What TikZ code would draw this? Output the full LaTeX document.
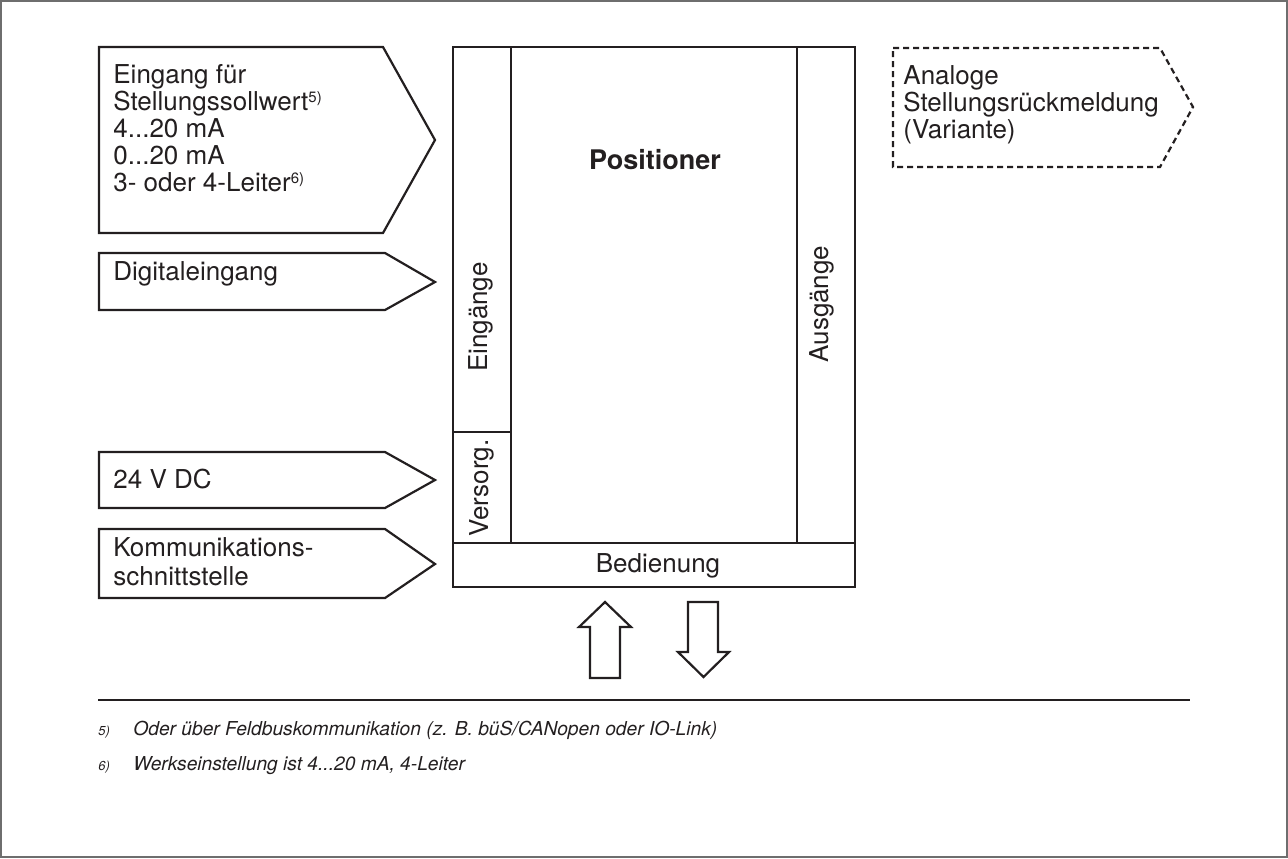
\documentclass[tikz,border=0pt]{standalone}
\usepackage{fontspec}
\setmainfont{TeX Gyre Heros}
\usepackage{xcolor}
\definecolor{primary}{RGB}{35, 31, 32}
\definecolor{framegray}{RGB}{110, 110, 110}
\newcommand{\fnref}[1]{\raisebox{0.55ex}{\fontsize{7.5}{8}\selectfont #1}}

\begin{document}
\begin{tikzpicture}[x=0.5pt,y=-0.5pt,line join=miter,
  shapeline/.style={primary,line width=1.1pt},
  bodytext/.style={font=\fontsize{13}{15}\selectfont,text=primary,inner sep=0pt,anchor=base west,align=left},
  sidetext/.style={font=\fontsize{13}{15}\selectfont,text=primary,inner sep=0pt,rotate=90},
  foottext/.style={font=\fontsize{9.6}{12}\selectfont\itshape,text=primary,inner sep=0pt,anchor=base west},
  footmark/.style={font=\fontsize{6.5}{8}\selectfont\itshape,text=primary,inner sep=0pt,anchor=base west}]
\useasboundingbox (0,0) rectangle (1288,858);
\draw[framegray,line width=0.6pt] (1,1) rectangle (1287,857);

% input arrows
\draw[shapeline] (99,47) -- (383,47) -- (435,140) -- (383,233) -- (99,233) -- cycle;
\draw[shapeline] (99,253) -- (385,253) -- (435,282) -- (385,310) -- (99,310) -- cycle;
\draw[shapeline] (99,452) -- (385,452) -- (435,480) -- (385,508) -- (99,508) -- cycle;
\draw[shapeline] (99,529) -- (385,529) -- (435,564) -- (385,598) -- (99,598) -- cycle;
\node[bodytext] (sollwert) at (113,83) {Eingang für};
\node[bodytext] (sollwert2) at (113,110) {Stellungssollwert\fnref{5)}};
\node[bodytext] (sollwert3) at (113,137) {4...20 mA};
\node[bodytext] (sollwert4) at (113,164) {0...20 mA};
\node[bodytext] (sollwert5) at (113,191) {3- oder 4-Leiter\fnref{6)}};
\node[bodytext] (digital) at (113,280) {Digitaleingang};
\node[bodytext] (versorgung) at (113,488) {24 V DC};
\node[bodytext] (komm) at (113,556) {Kommunikations-};
\node[bodytext] (komm2) at (113,585) {schnittstelle};

% output arrow (variant)
\draw[shapeline,dash pattern=on 3pt off 2pt] (893,48) -- (1160,48) -- (1193,107) -- (1160,167) -- (893,167) -- cycle;
\node[bodytext] (rueck) at (903,84) {Analoge};
\node[bodytext] (rueck2) at (903,111) {Stellungsrückmeldung};
\node[bodytext] (rueck3) at (903,138) {(Variante)};

% positioner block
\draw[shapeline] (453,47) rectangle (855,587);
\draw[shapeline] (511,47) -- (511,543);
\draw[shapeline] (453,432) -- (511,432);
\draw[shapeline] (797,47) -- (797,543);
\draw[shapeline] (453,543) -- (855,543);
\node[font=\fontsize{13.5}{15}\selectfont\bfseries,text=primary] (positioner) at (655,160) {Positioner};
\node[sidetext] (eingaenge) at (481,317) {Eingänge};
\node[sidetext] (ausgaenge) at (822,304) {Ausgänge};
\node[sidetext] (versorg) at (482,488) {Versorg.};
\node[font=\fontsize{13}{15}\selectfont,text=primary] (bedienung) at (658,566) {Bedienung};

% operating arrows
\draw[shapeline] (590,678) -- (590,627) -- (579,627) -- (605,602) -- (631,627) -- (620,627) -- (620,678) -- cycle;
\draw[shapeline] (688,602) -- (718,602) -- (718,652) -- (729,652) -- (703.5,677) -- (678,652) -- (688,652) -- cycle;

% footnotes
\draw[primary,line width=0.6pt] (98,700) -- (1190,700);
\node[footmark] (fn5mark) at (98,735) {5)};
\node[foottext] (fn5) at (133,735) {Oder über Feldbuskommunikation (z. B. büS/CANopen oder IO-Link)};
\node[footmark] (fn6mark) at (98,770) {6)};
\node[foottext] (fn6) at (133,770) {Werkseinstellung ist 4...20 mA, 4-Leiter};
\end{tikzpicture}
\end{document}
